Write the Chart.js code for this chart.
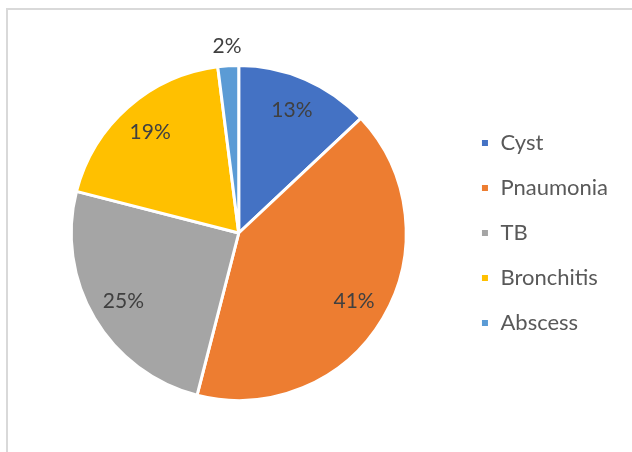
<!DOCTYPE html>
<html>
<head>
<meta charset="utf-8">
<script src="https://cdn.jsdelivr.net/npm/chart.js@4/dist/chart.umd.min.js"></script>
<style>
  html, body { margin: 0; padding: 0; background: #fff; }
  #frame {
    position: absolute; left: 6px; top: 8px; width: 630px; height: 450px;
    border-left: 2px solid #d9d9d9; border-top: 2px solid #d9d9d9;
  }
  #wrap { position: absolute; left: 0; top: 0; width: 632px; height: 452px; }
</style>
</head>
<body>
<div id="frame"></div>
<div id="wrap"><canvas id="myChart" width="632" height="452"></canvas></div>
<script>
// dados
const categorias = ['Cyst', 'Pnaumonia', 'TB', 'Bronchitis', 'Abscess'];
const valores = [13, 41, 25, 19, 2];
const cores = ['#4472C4', '#ED7D31', '#A5A5A5', '#FFC000', '#5B9BD5'];

// plugin simples para escrever as percentagens
const rotulosPlugin = {
  id: 'rotulos',
  afterDatasetsDraw(chart) {
    const ctx = chart.ctx;
    const meta = chart.getDatasetMeta(0);
    const total = valores.reduce((a, b) => a + b, 0);
    ctx.save();
    ctx.font = '21px Lato';
    ctx.fillStyle = '#404040';
    ctx.textAlign = 'center';
    ctx.textBaseline = 'middle';
    meta.data.forEach((arc, i) => {
      const p = arc.getProps(['x', 'y', 'startAngle', 'endAngle', 'outerRadius'], true);
      const meio = (p.startAngle + p.endAngle) / 2;
      const pct = Math.round(valores[i] / total * 100);
      // fatias pequenas ficam com o rótulo por fora
      const dist = pct < 5 ? p.outerRadius + 20 : p.outerRadius * 0.8;
      ctx.fillText(pct + '%', p.x + Math.cos(meio) * dist, p.y + Math.sin(meio) * dist);
    });
    ctx.restore();
  }
};

new Chart(document.getElementById('myChart'), {
  type: 'pie',
  data: {
    labels: categorias,
    datasets: [{
      data: valores,
      backgroundColor: cores,
      borderColor: '#ffffff',
      borderWidth: 3
    }]
  },
  options: {
    responsive: false,
    animation: false,
    layout: { padding: { top: 64, bottom: 50, left: 20, right: 14 } },
    plugins: {
      tooltip: { enabled: false },
      legend: {
        position: 'right',
        labels: {
          boxWidth: 9,
          boxHeight: 9,
          padding: 23,
          color: '#595959',
          font: { family: 'Lato', size: 22 }
        }
      }
    }
  },
  plugins: [rotulosPlugin]
});
</script>
</body>
</html>
